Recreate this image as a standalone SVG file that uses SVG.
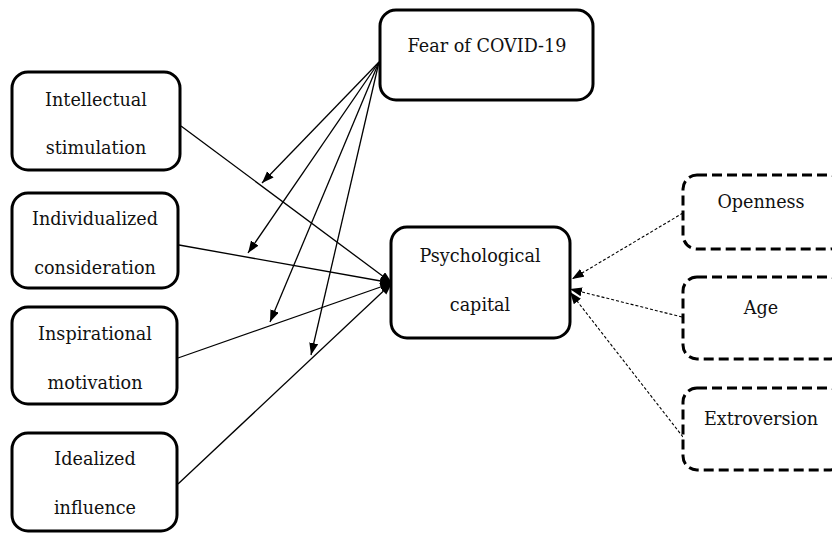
<svg xmlns="http://www.w3.org/2000/svg" width="832" height="534" viewBox="0 0 832 534">
<style>
.box{fill:#fff;stroke:#000;stroke-width:3}
.dbox{fill:#fff;stroke:#000;stroke-width:3;stroke-dasharray:10 5}
text{font-family:'DejaVu Serif','Liberation Serif',serif;font-size:17.6px;fill:#111;text-anchor:middle}
.ln{stroke:#000;stroke-width:1.3;fill:none;marker-end:url(#ah)}
.dl{stroke:#000;stroke-width:1.1;fill:none;stroke-dasharray:3 2;marker-end:url(#ah)}
</style>
<defs>
<marker id="ah" markerUnits="userSpaceOnUse" markerWidth="13" markerHeight="10" refX="12" refY="4.5" orient="auto">
<path d="M0,0 L12,4.5 L0,9 z" fill="#000"/>
</marker>
</defs>
<g id="connectors">
<line class="ln" x1="181" y1="126" x2="392" y2="283"/>
<line class="ln" x1="179" y1="245" x2="392" y2="283"/>
<line class="ln" x1="178" y1="358" x2="392" y2="283"/>
<line class="ln" x1="178" y1="484" x2="392" y2="283"/>
<line class="ln" x1="379" y1="62" x2="262" y2="183"/>
<line class="ln" x1="379" y1="62" x2="248" y2="253"/>
<line class="ln" x1="379" y1="62" x2="270" y2="322"/>
<line class="ln" x1="379" y1="62" x2="311" y2="355"/>
<line class="dl" x1="683" y1="213" x2="572" y2="279"/>
<line class="dl" x1="682" y1="317" x2="570" y2="289"/>
<line class="dl" x1="683" y1="437" x2="570" y2="292"/>
</g>
<g id="fear">
<rect class="box" x="380" y="10" width="213" height="90" rx="16"/>
<text x="487" y="52">Fear of COVID-19</text>
</g>
<g id="intellectual">
<rect class="box" x="12" y="72" width="168" height="98" rx="16"/>
<text x="96" y="106">Intellectual</text>
<text x="96" y="154">stimulation</text>
</g>
<g id="individualized">
<rect class="box" x="12" y="193" width="166" height="95" rx="16"/>
<text x="95" y="225">Individualized</text>
<text x="95" y="274">consideration</text>
</g>
<g id="inspirational">
<rect class="box" x="12" y="307" width="165" height="97" rx="16"/>
<text x="95" y="340">Inspirational</text>
<text x="95" y="389">motivation</text>
</g>
<g id="idealized">
<rect class="box" x="12" y="433" width="165" height="98" rx="16"/>
<text x="95" y="465">Idealized</text>
<text x="95" y="514">influence</text>
</g>
<g id="psycap">
<rect class="box" x="391" y="227" width="179" height="111" rx="16"/>
<text x="480" y="262">Psychological</text>
<text x="480" y="311">capital</text>
</g>
<g id="openness">
<rect class="dbox" x="683" y="175" width="160" height="74" rx="14"/>
<text x="761" y="208">Openness</text>
</g>
<g id="age">
<rect class="dbox" x="683" y="277" width="160" height="82" rx="14"/>
<text x="761" y="314">Age</text>
</g>
<g id="extroversion">
<rect class="dbox" x="683" y="388" width="160" height="82" rx="14"/>
<text x="761" y="425">Extroversion</text>
</g>
</svg>
